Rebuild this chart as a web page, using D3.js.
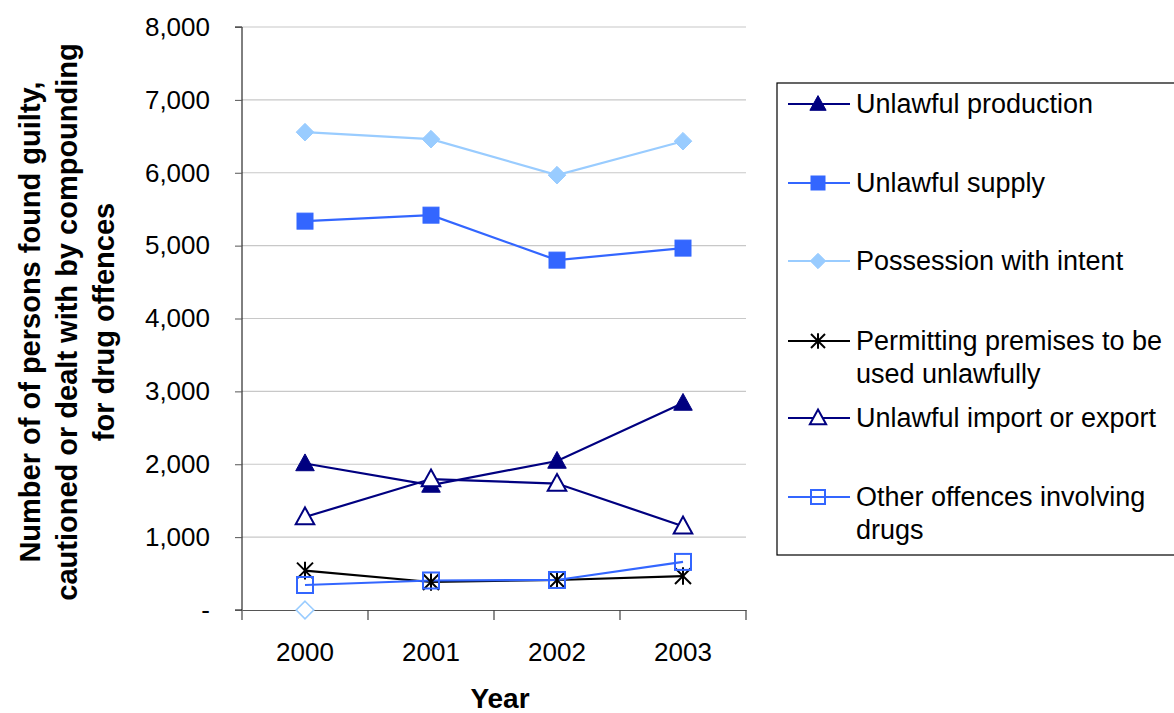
<!DOCTYPE html>
<html>
<head>
<meta charset="utf-8">
<script src="https://cdn.jsdelivr.net/npm/d3@7"></script>
<style>
  body { margin: 0; background: #fff; }
  svg { font-family: 'Liberation Sans', Arial, sans-serif; }
</style>
</head>
<body>
<svg id="chart" width="1174" height="713"></svg>
<script>
const years = ['2000', '2001', '2002', '2003']
const yTicks = [0, 1000, 2000, 3000, 4000, 5000, 6000, 7000, 8000]

const unlawfulProduction = [2010, 1715, 2044, 2840]
const unlawfulSupply = [5336, 5418, 4801, 4966]
const possessionWithIntent = [6557, 6461, 5967, 6433]
const permittingPremises = [540, 384, 412, 466]
const importExport = [1276, 1797, 1735, 1150]
const otherOffences = [343, 405, 412, 660]
// stray empty marker in the source sheet (2000 only)
const strayPoint = [0]

const series = [
  { name: ['Unlawful production'], values: unlawfulProduction, color: '#000080', symbol: 'triangle', fill: true },
  { name: ['Unlawful supply'], values: unlawfulSupply, color: '#3366FF', symbol: 'square', fill: true },
  { name: ['Possession with intent'], values: possessionWithIntent, color: '#99CCFF', symbol: 'diamond', fill: true },
  { name: ['Permitting premises to be', 'used unlawfully'], values: permittingPremises, color: '#000000', symbol: 'star', fill: false },
  { name: ['Unlawful import or export'], values: importExport, color: '#000080', symbol: 'triangle', fill: false },
  { name: ['Other offences involving', 'drugs'], values: otherOffences, color: '#3366FF', symbol: 'square', fill: false }
]

const svg = d3.select('#chart')
const margin = { left: 242, top: 27, right: 428, bottom: 103 }
const width = 1174 - margin.left - margin.right
const height = 713 - margin.top - margin.bottom

const g = svg.append('g').attr('transform', `translate(${margin.left},${margin.top})`)

const xScale = d3.scaleBand().domain(years).range([0, width]).padding(0)
const yScale = d3.scaleLinear().domain([0, 8000]).range([height, 0])

// gridlines
g.append('g')
  .selectAll('line')
  .data(yTicks.slice(1))
  .join('line')
  .attr('x1', 0).attr('x2', width)
  .attr('y1', d => yScale(d)).attr('y2', d => yScale(d))
  .attr('stroke', '#c8c8c8').attr('stroke-width', 1.2)

const yAxis = d3.axisLeft(yScale)
  .tickValues(yTicks)
  .tickSize(7)
  .tickPadding(25)
  .tickFormat(d => d === 0 ? '-' : d3.format(',')(d))

g.append('g').call(yAxis)
  .call(a => a.select('.domain').attr('stroke', '#000').attr('d', `M-7,0H0V${height}H-7`))
  .call(a => a.selectAll('.tick line').attr('stroke', '#555'))
  .call(a => a.selectAll('.tick text').attr('font-size', 26).attr('fill', '#000').attr('font-family', "'Liberation Sans', Arial, sans-serif"))

const xAxis = d3.axisBottom(xScale).tickSize(0).tickPadding(33)
const xg = g.append('g').attr('transform', `translate(0,${height})`).call(xAxis)
xg.select('.domain').attr('stroke', '#555').attr('stroke-width', 1.2)
xg.selectAll('.tick text').attr('font-size', 26).attr('fill', '#000').attr('font-family', "'Liberation Sans', Arial, sans-serif")
// category boundary ticks
xg.append('g').selectAll('line')
  .data(d3.range(years.length + 1))
  .join('line')
  .attr('x1', i => i * xScale.bandwidth()).attr('x2', i => i * xScale.bandwidth())
  .attr('y1', 0).attr('y2', 10)
  .attr('stroke', '#444').attr('stroke-width', 1.2)

// axis titles
svg.append('text')
  .attr('x', margin.left + width / 2 + 6).attr('y', 708)
  .attr('text-anchor', 'middle')
  .attr('font-size', 28).attr('font-weight', 'bold')
  .text('Year')

const yTitle = svg.append('text')
  .attr('transform', `translate(69,322) rotate(-90)`)
  .attr('text-anchor', 'middle')
  .attr('font-size', 29).attr('font-weight', 'bold')
const yTitleLines = ['Number of of persons found guilty,', 'cautioned or dealt with by compounding', 'for drug offences']
yTitleLines.forEach((t, i) => {
  yTitle.append('tspan').attr('x', 0).attr('dy', i === 0 ? -37 : 37).attr('dominant-baseline', 'middle').text(t)
})

function drawSymbol (sel, s, x, y, size) {
  const sw = 2
  if (s.symbol === 'triangle') {
    const h = size * 1.0
    sel.append('path')
      .attr('d', `M${x},${y - h * 0.6}L${x + h * 0.58},${y + h * 0.45}L${x - h * 0.58},${y + h * 0.45}Z`)
      .attr('fill', s.fill ? s.color : '#fff').attr('stroke', s.color).attr('stroke-width', s.fill ? 1 : sw)
  } else if (s.symbol === 'square') {
    const h = size * 0.5
    sel.append('rect')
      .attr('x', x - h).attr('y', y - h).attr('width', h * 2).attr('height', h * 2)
      .attr('fill', s.fill ? s.color : 'none').attr('stroke', s.color).attr('stroke-width', s.fill ? 1 : sw)
  } else if (s.symbol === 'diamond') {
    const h = size * 0.55
    sel.append('path')
      .attr('d', `M${x},${y - h}L${x + h},${y}L${x},${y + h}L${x - h},${y}Z`)
      .attr('fill', s.fill ? s.color : '#fff').attr('stroke', s.color).attr('stroke-width', s.fill ? 1 : 1.6)
  } else if (s.symbol === 'star') {
    const h = size * 0.5
    const p = sel.append('g').attr('stroke', s.color).attr('stroke-width', 2)
    p.append('line').attr('x1', x - h).attr('x2', x + h).attr('y1', y - h).attr('y2', y + h)
    p.append('line').attr('x1', x - h).attr('x2', x + h).attr('y1', y + h).attr('y2', y - h)
    p.append('line').attr('x1', x).attr('x2', x).attr('y1', y - h * 1.1).attr('y2', y + h * 1.1)
  }
}

const cx = d => xScale(d) + xScale.bandwidth() / 2
const line = d3.line().x((d, i) => cx(years[i])).y(d => yScale(d))

series.forEach(s => {
  g.append('path')
    .datum(s.values)
    .attr('d', line)
    .attr('fill', 'none')
    .attr('stroke', s.color)
    .attr('stroke-width', 2.2)
})
series.forEach(s => {
  const mg = g.append('g')
  s.values.forEach((v, i) => drawSymbol(mg, s, cx(years[i]), yScale(v), 16))
})
drawSymbol(g.append('g'), { symbol: 'diamond', color: '#99CCFF', fill: false }, cx(years[0]), yScale(strayPoint[0]), 16)

// legend
const legend = svg.append('g').attr('transform', 'translate(777,83)')
legend.append('rect')
  .attr('x', 0).attr('y', 0).attr('width', 420).attr('height', 472)
  .attr('fill', '#fff').attr('stroke', '#000').attr('stroke-width', 1.2)
const legendY = [21, 100, 178, 258, 335, 414]
series.forEach((s, i) => {
  const y = legendY[i]
  const it = legend.append('g')
  it.append('line').attr('x1', 11).attr('x2', 73).attr('y1', y).attr('y2', y)
    .attr('stroke', s.color).attr('stroke-width', 2.2)
  drawSymbol(it, s, 41, y, 14)
  s.name.forEach((t, j) => {
    it.append('text')
      .attr('x', 79).attr('y', y + j * 33)
      .attr('dy', '0.35em')
      .attr('font-size', 27)
      .text(t)
  })
})
</script>
</body>
</html>
